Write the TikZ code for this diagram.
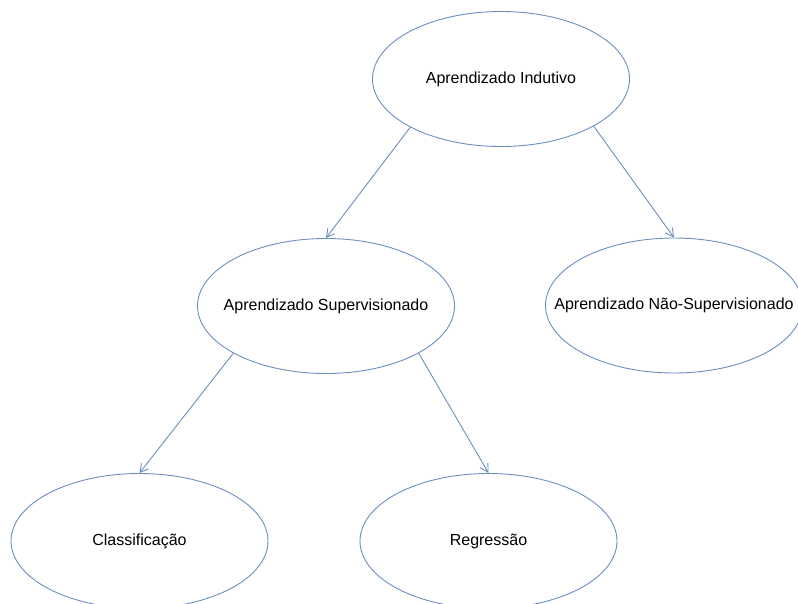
\documentclass[tikz,border=0pt]{standalone}
\usepackage{fontspec}
\setmainfont{Liberation Sans}
\usetikzlibrary{shapes.geometric,arrows.meta}
\definecolor{edgeblue}{HTML}{6C8EBF}
\newcommand{\zw}[1]{\makebox[0pt]{#1}}
\tikzset{
  ell/.style={ellipse, draw=edgeblue, line width=0.9pt, minimum width=257pt, minimum height=135pt, inner sep=0pt, font=\fontsize{16}{19}\selectfont, text=black},
  conn/.style={draw=edgeblue, line width=0.9pt, -{Straight Barb[length=8pt,width=9pt]}}
}
\begin{document}
\begin{tikzpicture}[x=1pt,y=-1pt]
\useasboundingbox (0,0) rectangle (798,603);
\begin{scope}
\clip (0,0) rectangle (798,603);
\node[ell] (ind) at (501,79) {\zw{Aprendizado Indutivo}};
\node[ell] (sup) at (326,306) {\zw{Aprendizado Supervisionado}};
\node[ell] (nsup) at (674,305.5) {\zw{Aprendizado Não-Supervisionado}};
\node[ell] (cla) at (139.5,541) {\zw{Classificação}};
\node[ell] (reg) at (488.5,541) {\zw{Regressão}};
\draw[conn] (ind.208) -- (sup.north);
\draw[conn] (ind.333) -- (nsup.north);
\draw[conn] (sup.207) -- (cla.north);
\draw[conn] (sup.333) -- (reg.north);
\end{scope}
\end{tikzpicture}
\end{document}
